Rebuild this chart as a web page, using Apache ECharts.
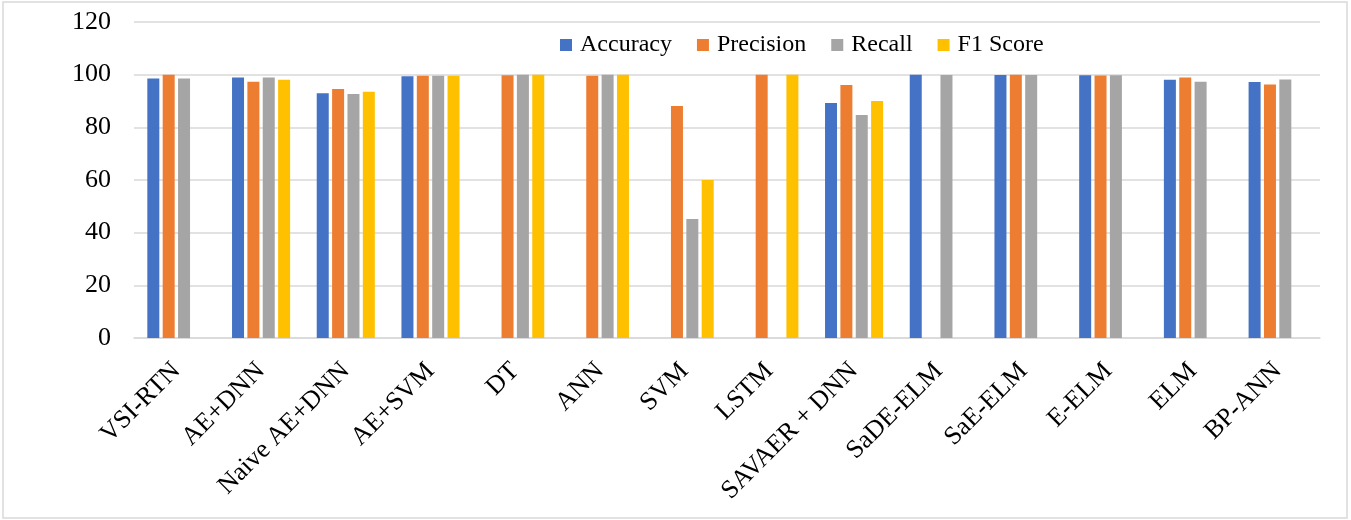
<!DOCTYPE html>
<html>
<head>
<meta charset="utf-8">
<script src="https://cdn.jsdelivr.net/npm/echarts@6/dist/echarts.min.js"></script>
<style>
  html, body { margin: 0; padding: 0; background: #fff; }
  #chart { width: 1351px; height: 520px; }
</style>
</head>
<body>
<div id="chart"></div>
<script>
// Model names along the x axis
const categories = ['VSI-RTN', 'AE+DNN', 'Naive AE+DNN', 'AE+SVM', 'DT', 'ANN', 'SVM',
  'LSTM', 'SAVAER + DNN', 'SaDE-ELM', 'SaE-ELM', 'E-ELM', 'ELM', 'BP-ANN'];

// Metric values (%) per model; null where a metric was not reported
const accuracy  = [98.5, 98.9, 92.9, 99.4, null, null, null, null, 89.2, 100, 99.9, 99.8, 98.1, 97.2];
const precision = [100, 97.3, 94.6, 99.6, 99.8, 99.6, 88.1, 100, 96.1, null, 100, 99.7, 98.9, 96.3];
const recall    = [98.5, 98.9, 92.7, 99.6, 100, 100, 45.2, null, 84.7, 99.9, 99.9, 99.8, 97.3, 98.2];
const f1Score   = [null, 98.1, 93.5, 99.6, 100, 100, 60, 100, 90, null, null, null, null, null];

const yTicks = { min: 0, max: 120, interval: 20 };

const seriesNames  = ['Accuracy', 'Precision', 'Recall', 'F1 Score'];
const seriesData   = [accuracy, precision, recall, f1Score];
const seriesColors = ['#4472C4', '#ED7D31', '#A5A5A5', '#FFC000'];

const FONT = '"Liberation Serif", "Times New Roman", serif';

const chart = echarts.init(document.getElementById('chart'), null, { renderer: 'canvas' });

chart.setOption({
  animation: false,
  backgroundColor: '#fff',
  textStyle: { fontFamily: FONT },
  graphic: [{
    type: 'rect',
    shape: { x: 3, y: 2, width: 1344, height: 516 },
    style: { fill: 'none', stroke: '#d9d9d9', lineWidth: 1.5 },
    silent: true,
    z: -1
  }],
  legend: {
    data: seriesNames,
    left: 555,
    top: 28,
    icon: 'rect',
    itemWidth: 12,
    itemHeight: 12,
    itemGap: 25,
    textStyle: { fontFamily: FONT, fontSize: 24, color: '#000', padding: [0, 0, 0, 3] }
  },
  grid: { left: 134, right: 31, top: 22, bottom: 182 },
  xAxis: {
    type: 'category',
    data: categories,
    axisLine: { show: true, lineStyle: { color: '#d9d9d9', width: 1.5 } },
    axisTick: { show: false },
    axisLabel: {
      rotate: 45,
      interval: 0,
      margin: 29,
      fontFamily: FONT,
      fontSize: 26,
      color: '#000'
    }
  },
  yAxis: {
    type: 'value',
    min: yTicks.min,
    max: yTicks.max,
    interval: yTicks.interval,
    axisLine: { show: false },
    axisTick: { show: false },
    splitLine: { lineStyle: { color: '#d9d9d9', width: 1.5 } },
    axisLabel: { margin: 23, fontFamily: FONT, fontSize: 26, color: '#000' }
  },
  series: seriesNames.map((name, i) => ({
    name: name,
    type: 'bar',
    data: seriesData[i],
    barWidth: 12,
    barGap: '28%',
    itemStyle: { color: seriesColors[i] }
  }))
});
</script>
</body>
</html>
